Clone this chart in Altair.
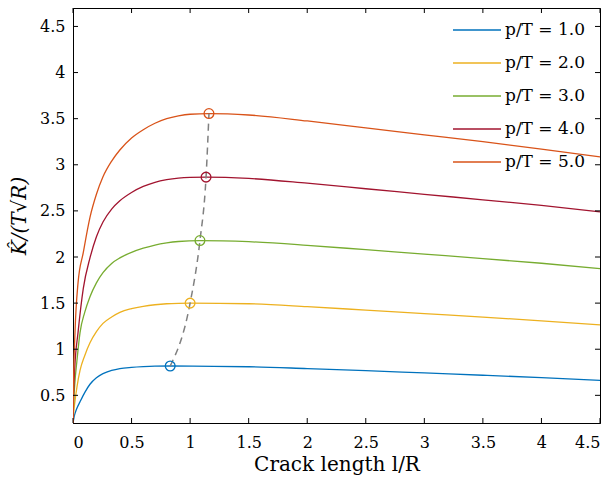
import altair as alt
import pandas as pd

W, H = 527, 415
FONT = "DejaVu Serif"

series_names = ["p/T = 1.0", "p/T = 2.0", "p/T = 3.0", "p/T = 4.0", "p/T = 5.0"]
colors = ["#0072BD", "#EDB120", "#77AC30", "#A2142F", "#D95319"]

# p/T = 1.0
x1 = [0, 0.01, 0.03, 0.06, 0.1, 0.145, 0.2, 0.256, 0.33, 0.4, 0.5, 0.6, 0.7, 0.83, 1.2, 1.5, 2, 2.5, 3, 3.5, 4, 4.5]
y1 = [0.2, 0.27, 0.35, 0.43, 0.53, 0.62, 0.69, 0.735, 0.77, 0.79, 0.803, 0.811, 0.816, 0.818, 0.815, 0.81, 0.79, 0.768, 0.743, 0.718, 0.692, 0.662]
# p/T = 2.0
x2 = [0, 0.005, 0.017, 0.035, 0.06, 0.1, 0.145, 0.2, 0.256, 0.33, 0.4, 0.5, 0.6, 0.7, 0.8, 0.9, 1.0, 1.5, 2, 2.5, 3, 3.5, 4, 4.5]
y2 = [0.2, 0.3, 0.44, 0.6, 0.77, 0.93, 1.07, 1.19, 1.28, 1.35, 1.40, 1.44, 1.465, 1.482, 1.493, 1.498, 1.50, 1.493, 1.462, 1.424, 1.386, 1.348, 1.308, 1.263]
# p/T = 3.0
x3 = [0, 0.005, 0.015, 0.034, 0.06, 0.1, 0.145, 0.2, 0.256, 0.33, 0.4, 0.5, 0.6, 0.7, 0.8, 0.9, 1.084, 1.5, 2, 2.5, 3, 3.5, 4, 4.5]
y3 = [0.2, 0.4, 0.62, 0.88, 1.18, 1.40, 1.57, 1.72, 1.83, 1.93, 1.99, 2.05, 2.095, 2.13, 2.153, 2.168, 2.178, 2.166, 2.127, 2.079, 2.031, 1.983, 1.932, 1.875]
# p/T = 4.0
x4 = [0, 0.005, 0.015, 0.043, 0.088, 0.145, 0.2, 0.256, 0.33, 0.4, 0.5, 0.6, 0.7, 0.8, 0.9, 1.0, 1.136, 1.5, 2, 2.5, 3, 3.5, 4, 4.5]
y4 = [0.2, 0.5, 0.8, 1.18, 1.66, 1.99, 2.22, 2.38, 2.52, 2.61, 2.70, 2.765, 2.81, 2.838, 2.855, 2.863, 2.866, 2.852, 2.80, 2.74, 2.68, 2.62, 2.56, 2.49]
# p/T = 5.0
x5 = [0, 0.004, 0.017, 0.043, 0.088, 0.145, 0.2, 0.256, 0.33, 0.4, 0.5, 0.6, 0.7, 0.8, 0.9, 1.0, 1.161, 1.5, 2, 2.5, 3, 3.5, 4, 4.5]
y5 = [0.2, 0.6, 1.18, 1.72, 2.05, 2.43, 2.68, 2.87, 3.04, 3.16, 3.29, 3.38, 3.45, 3.50, 3.53, 3.548, 3.555, 3.54, 3.475, 3.40, 3.325, 3.25, 3.17, 3.085]

# peak markers
peak_x = [0.83, 1.0, 1.084, 1.136, 1.161]
peak_y = [0.818, 1.50, 2.178, 2.866, 3.555]

x_ticks = [0, 0.5, 1, 1.5, 2, 2.5, 3, 3.5, 4, 4.5]
y_ticks = [0.5, 1, 1.5, 2, 2.5, 3, 3.5, 4, 4.5]

rows = []
for name, xs, ys in zip(series_names, [x1, x2, x3, x4, x5], [y1, y2, y3, y4, y5]):
    for a, b in zip(xs, ys):
        rows.append({"series": name, "l": a, "K": b})
df = pd.DataFrame(rows)
peaks = pd.DataFrame({"series": series_names, "l": peak_x, "K": peak_y})
xt = pd.DataFrame({"l": x_ticks})
yt = pd.DataFrame({"K": y_ticks})

xscale = alt.Scale(domain=[0, 4.5], nice=False, zero=False)
yscale = alt.Scale(domain=[0.2, 4.7], nice=False, zero=False)

xaxis = alt.Axis(values=x_ticks, format="~g", tickSize=0, grid=False,
                 labelFont=FONT, labelFontSize=16, labelColor="black", labelPadding=11,
                 domainColor="black", title="Crack length l/R", titleFont=FONT,
                 titleFontSize=20, titleFontWeight="normal", titleColor="black", titlePadding=4)
yaxis = alt.Axis(values=y_ticks, format="~g", tickSize=0, grid=False,
                 labelFont=FONT, labelFontSize=16, labelColor="black", labelPadding=8,
                 domainColor="black", title="K̂/(T√R)", titleFont=FONT,
                 titleFontStyle="italic",
                 titleFontSize=20, titleFontWeight="normal", titleColor="black", titlePadding=10)

x_enc = alt.X("l:Q", scale=xscale, axis=xaxis)
y_enc = alt.Y("K:Q", scale=yscale, axis=yaxis)

color = alt.Color("series:N", scale=alt.Scale(domain=series_names, range=colors),
                  legend=alt.Legend(orient="none", legendX=379, legendY=-3, title=None,
                                    symbolType="stroke", symbolSize=2304, symbolStrokeWidth=1.3,
                                    labelFont=FONT, labelFontSize=17, labelColor="black",
                                    labelOffset=3, rowPadding=-10, padding=0, labelLimit=200))

lines = alt.Chart(df).mark_line(strokeWidth=1.3, interpolate="monotone", clip=True).encode(
    x=x_enc, y=y_enc, color=color)

dash = alt.Chart(peaks).mark_line(color="#808080", strokeDash=[7, 5], strokeWidth=1.5,
                                  interpolate="monotone").encode(x=x_enc, y=y_enc)

marks = alt.Chart(peaks).mark_point(shape="circle", filled=False, size=95, strokeWidth=1.3,
                                    opacity=1).encode(x=x_enc, y=y_enc, color=color)

tick_b = alt.Chart(xt).mark_rule(color="black", strokeWidth=1).encode(
    x=x_enc, y=alt.value(H), y2=alt.value(H - 5))
tick_t = alt.Chart(xt).mark_rule(color="black", strokeWidth=1).encode(
    x=x_enc, y=alt.value(0), y2=alt.value(5))
tick_l = alt.Chart(yt).mark_rule(color="black", strokeWidth=1).encode(
    y=y_enc, x=alt.value(0), x2=alt.value(5))
tick_r = alt.Chart(yt).mark_rule(color="black", strokeWidth=1).encode(
    y=y_enc, x=alt.value(W), x2=alt.value(W - 5))

chart = alt.layer(lines, dash, marks, tick_b, tick_t, tick_l, tick_r).properties(
    width=W, height=H,
    autosize=alt.AutoSizeParams(type="none"),
    padding={"left": 73, "top": 8, "right": 14, "bottom": 60},
    background="white",
).configure_view(stroke="black", strokeWidth=1)

chart.save("out.html", embed_options={"renderer": "svg", "actions": False})
